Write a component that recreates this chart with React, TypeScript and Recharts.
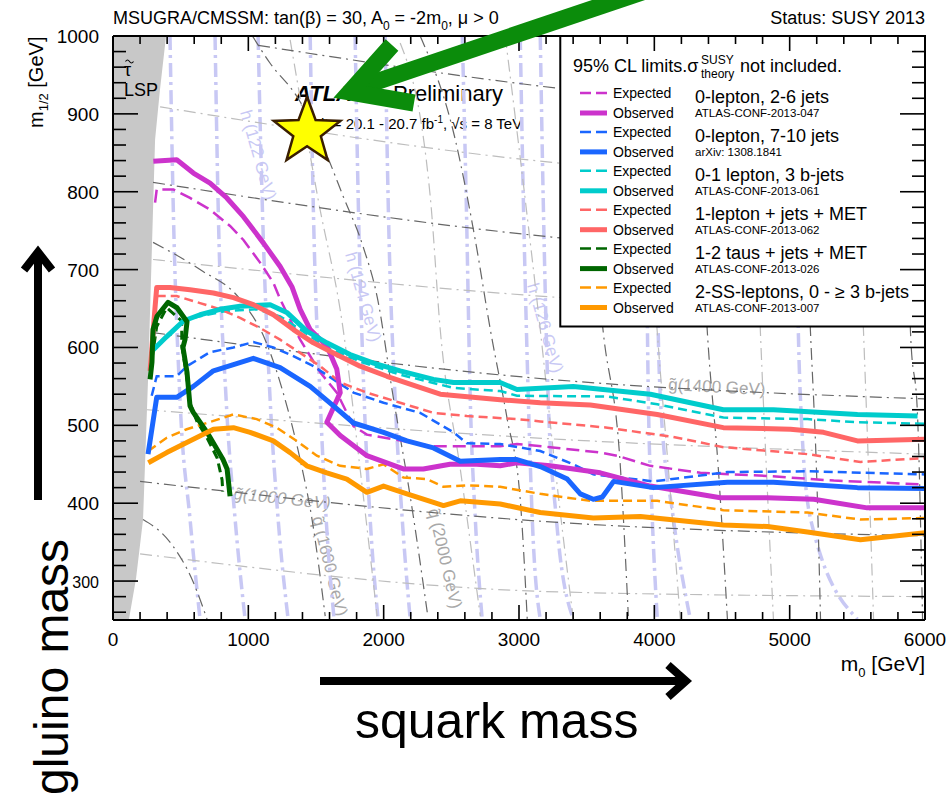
import React from 'react';
import { Area, ComposedChart, Line, ReferenceArea, Scatter, XAxis, YAxis } from 'recharts';

type P = [number, number];

const FONT = '"Liberation Sans", Arial, Helvetica, sans-serif';

const xTicks = [
  0, 200, 400, 600, 800, 1000, 1200, 1400, 1600, 1800, 2000, 2200, 2400, 2600, 2800, 3000,
  3200, 3400, 3600, 3800, 4000, 4200, 4400, 4600, 4800, 5000, 5200, 5400, 5600, 5800, 6000,
];
const yTicks = [
  260, 280, 300, 320, 340, 360, 380, 400, 420, 440, 460, 480, 500, 520, 540, 560, 580, 600,
  620, 640, 660, 680, 700, 720, 740, 760, 780, 800, 820, 840, 860, 880, 900, 920, 940, 960,
  980, 1000,
];

// --- exclusion limits (m0, m1/2) ---
const magentaObs: P[] = [
  [298, 839], [471, 841], [594, 824], [717, 811], [841, 792], [964, 768], [1112, 734], [1235, 704],
  [1322, 678], [1383, 649], [1457, 623], [1580, 602], [1654, 572], [1679, 542], [1580, 504],
  [1679, 487], [1876, 461], [2145, 444], [2293, 444], [2490, 450], [2687, 450], [2861, 448],
  [2984, 452], [3231, 448], [3601, 439], [3970, 422], [4488, 407], [4833, 407], [5178, 405],
  [5573, 394], [6000, 394],
];
const magentaExp: P[] = [
  [311, 786], [323, 803], [446, 803], [569, 792], [717, 777], [865, 756], [964, 738], [1087, 709],
  [1185, 683], [1235, 662], [1383, 610], [1531, 568], [1654, 542], [1777, 499], [1876, 488],
  [2072, 482], [2368, 473], [2689, 473], [2861, 473], [2985, 476], [3231, 472], [3601, 465],
  [3724, 461], [3970, 448], [4340, 439], [4833, 435], [5326, 429], [6000, 424],
];
const blueObs: P[] = [
  [259, 463], [323, 536], [471, 536], [594, 550], [742, 570], [890, 578], [1037, 586], [1235, 574],
  [1457, 550], [1629, 525], [1777, 503], [1999, 491], [2172, 480], [2368, 471], [2566, 454],
  [2861, 456], [2985, 456], [3157, 447], [3357, 431], [3453, 412], [3549, 405], [3616, 408],
  [3699, 428], [3993, 420], [4540, 427], [4880, 427], [5501, 420], [6000, 419],
];
const blueExp: P[] = [
  [286, 538], [323, 563], [471, 563], [547, 576], [717, 594], [890, 600], [1037, 607], [1185, 600],
  [1333, 589], [1481, 576], [1629, 559], [1777, 542], [1999, 529], [2270, 516], [2516, 491],
  [2615, 477], [2861, 476], [3157, 467], [3401, 450], [3549, 437], [3993, 428], [4540, 440],
  [5131, 441], [6000, 437],
];
const cyanObs: P[] = [
  [298, 597], [397, 614], [520, 634], [643, 642], [791, 649], [939, 653], [1161, 655], [1284, 645],
  [1432, 621], [1580, 606], [1752, 591], [1925, 580], [2122, 570], [2368, 559], [2516, 555],
  [2861, 555], [2985, 546], [3401, 550], [3971, 540], [4510, 520], [4880, 520], [5501, 514],
  [5945, 512],
];
const cyanExp: P[] = [
  [495, 634], [643, 640], [841, 647], [1062, 649], [1235, 640], [1383, 623], [1580, 600],
  [1826, 582], [2122, 565], [2516, 548], [2861, 544], [2985, 538], [3653, 537], [4022, 527],
  [4510, 510], [5131, 508], [5501, 504], [6000, 502],
];
const redObs: P[] = [
  [274, 570], [310, 650], [323, 677], [421, 677], [569, 674], [742, 670], [890, 664], [1037, 655],
  [1185, 642], [1333, 623], [1481, 606], [1629, 593], [1826, 576], [2024, 563], [2245, 550],
  [2418, 540], [2861, 533], [3157, 529], [3527, 526], [4022, 514], [4510, 497], [5006, 495],
  [5250, 491], [5501, 480], [6000, 482],
];
const redExp: P[] = [
  [323, 666], [471, 666], [643, 657], [791, 649], [939, 638], [1087, 625], [1235, 610],
  [1383, 593], [1531, 576], [1679, 555], [1876, 542], [2122, 529], [2368, 516], [2615, 512],
  [2985, 508], [3157, 505], [3653, 497], [4141, 485], [4510, 472], [5131, 463], [5523, 453],
  [6000, 458],
];
const greenObs: P[] = [
  [274, 559], [288, 581], [296, 623], [325, 640], [407, 658], [473, 651], [547, 633], [532, 610],
  [517, 600], [547, 568], [569, 525], [592, 517], [695, 491], [813, 456], [843, 444], [865, 409],
];
const greenExp: P[] = [
  [288, 585], [323, 627], [397, 651], [508, 634], [508, 602], [540, 568], [569, 529], [620, 505],
  [695, 484], [770, 458], [806, 430], [811, 415],
];
const orangeObs: P[] = [
  [261, 452], [397, 465], [545, 478], [742, 495], [890, 497], [1013, 491], [1185, 480],
  [1309, 465], [1432, 448], [1580, 439], [1728, 431], [1876, 414], [1999, 422], [2172, 412],
  [2368, 401], [2442, 397], [2566, 403], [2861, 399], [3157, 388], [3549, 381], [3897, 383],
  [4510, 372], [4836, 370], [5131, 363], [5523, 353], [6000, 362],
];
const orangeExp: P[] = [
  [261, 467], [397, 484], [545, 495], [693, 503], [890, 514], [1062, 508], [1210, 497],
  [1358, 480], [1506, 461], [1678, 448], [1876, 444], [1999, 450], [2146, 433], [2319, 431],
  [2442, 421], [2615, 423], [2861, 421], [3157, 412], [3527, 403], [4022, 403], [4510, 391],
  [5131, 388], [5523, 379], [6000, 381],
];

const analyses = [
  { title: '0-lepton, 2-6 jets', ref: 'ATLAS-CONF-2013-047', color: '#cc33cc', obs: magentaObs, exp: magentaExp, dash: '13 6' },
  { title: '0-lepton, 7-10 jets', ref: 'arXiv: 1308.1841', color: '#1a66ff', obs: blueObs, exp: blueExp, dash: '9 5' },
  { title: '0-1 lepton, 3 b-jets', ref: 'ATLAS-CONF-2013-061', color: '#00cccc', obs: cyanObs, exp: cyanExp, dash: '9 5' },
  { title: '1-lepton + jets + MET', ref: 'ATLAS-CONF-2013-062', color: '#ff6666', obs: redObs, exp: redExp, dash: '9 5' },
  { title: '1-2 taus + jets + MET', ref: 'ATLAS-CONF-2013-026', color: '#006600', obs: greenObs, exp: greenExp, dash: '9 5' },
  { title: '2-SS-leptons, 0 - \u2265 3 b-jets', ref: 'ATLAS-CONF-2013-007', color: '#ff9900', obs: orangeObs, exp: orangeExp, dash: '9 5' },
];

// --- stau LSP region: lower edge of m1/2 vs m0 ---
const lspEdge: P[] = [
  [0, 250], [118, 251], [170, 303], [222, 379], [259, 559], [311, 867], [347, 931], [392, 1000],
];

// --- mass contours in the background ---
const gluinoA: P[] = [[1072, 988], [3283, 933], [6000, 892]];
const gluinoB: P[] = [[296, 812], [3283, 741], [6000, 710]];
const gluino1400: P[] = [[296, 619], [3231, 559], [6000, 534]];
const gluino1000: P[] = [[200, 428], [3231, 376], [6000, 358]];
const lightA: P[] = [[348, 909], [3283, 837], [6000, 809]];
const lightB: P[] = [[296, 713], [3231, 665], [6000, 642]];
const lightC: P[] = [[251, 520], [3305, 482], [6000, 463]];
const lightD: P[] = [[200, 335], [3305, 286], [6000, 280]];
const squark1200: P[] = [[222, 379], [421, 350], [592, 299], [695, 251]];
const squark1600: P[] = [[296, 735], [643, 700], [939, 662], [1124, 610], [1272, 533], [1383, 456], [1471, 379], [1568, 255]];
const squark2000: P[] = [[1030, 1000], [1161, 965], [1360, 922], [1553, 858], [1701, 794], [1849, 729], [1952, 665], [2070, 537], [2196, 409], [2322, 260]];
const squark2400: P[] = [[2270, 1000], [2529, 867], [2677, 738], [2788, 623], [2913, 508], [3009, 405], [3061, 251]];
const squark2800: P[] = [[3305, 1000], [3527, 790], [3623, 619], [3749, 447], [3808, 255]];
const squark3200: P[] = [[4266, 1000], [4340, 790], [4392, 619], [4473, 444], [4540, 251]];
const squark3600: P[] = [[5080, 1000], [5110, 790], [5154, 619], [5205, 405], [5228, 251]];
const squark4000: P[] = [[5850, 1000], [5870, 790], [5893, 619], [5945, 512], [5982, 251]];
const vertA: P[] = [[1309, 995], [1516, 790], [1701, 623], [1826, 444], [1952, 255]];
const vertB: P[] = [[2122, 991], [2344, 794], [2418, 623], [2566, 444], [2714, 255]];
const vertC: P[] = [[2898, 1000], [3046, 790], [3157, 623], [3268, 444], [3401, 251]];
const vertD: P[] = [[3897, 1000], [3956, 790], [4022, 619], [4104, 444], [4192, 251]];
const vertE: P[] = [[4710, 1000], [4747, 790], [4784, 619], [4828, 444], [4880, 251]];
const vertF: P[] = [[5486, 1000], [5509, 790], [5546, 619], [5583, 444], [5620, 251]];
const higgs1: P[] = [[421, 1000], [444, 790], [495, 533], [569, 380], [643, 251]];
const higgs2: P[] = [[754, 1000], [776, 790], [836, 533], [902, 380], [976, 251]];
const higgs3: P[] = [[1072, 1000], [1102, 790], [1161, 533], [1220, 380], [1294, 251]];
const higgs4: P[] = [[1457, 1000], [1479, 790], [1531, 533], [1575, 380], [1634, 251]];
const higgs5: P[] = [[1789, 1000], [1812, 790], [1856, 533], [1900, 380], [1959, 251]];
const higgs6: P[] = [[2011, 1000], [2033, 790], [2085, 533], [2137, 380], [2196, 251]];
const higgs7: P[] = [[2581, 1000], [2610, 790], [2640, 533], [2677, 380], [2728, 251]];
const higgs8: P[] = [[3009, 1000], [3032, 790], [3069, 533], [3098, 380], [3157, 251]];
const higgs9: P[] = [[3157, 1000], [3179, 790], [3216, 533], [3276, 380], [3401, 251]];
const higgs10: P[] = [[3934, 1000], [3941, 790], [3956, 533], [3985, 380], [4022, 251]];
const higgs11: P[] = [[4008, 1000], [4015, 790], [4045, 533], [4141, 380], [4266, 251]];
const higgs12: P[] = [[5043, 1000], [5050, 790], [5080, 533], [5154, 380], [5501, 251]];

const darkContours = [gluinoA, gluinoB, gluino1400, gluino1000, squark1200, squark1600, squark2000, squark2400, squark2800, squark3200, squark3600, squark4000];
const lightContours = [lightA, lightB, lightC, lightD, vertA, vertB, vertC, vertD, vertE, vertF];
const higgsContours = [higgs1, higgs2, higgs3, higgs4, higgs5, higgs6, higgs7, higgs8, higgs9, higgs10, higgs11, higgs12];

const starPos = [{ x: 1434, y: 877 }];
const legendBox = { x1: 3305, x2: 6000, y1: 627, y2: 1000 };

const toXY = (a: P[]) => a.map(([x, y]) => ({ x, y }));
const lspData = lspEdge.map(([x, y]) => ({ x, range: [y, 1000] }));

const BottomTick = (p: any) => {
  const v = p.payload.value;
  const major = v % 1000 === 0;
  return (
    <g>
      <line x1={p.x} x2={p.x} y1={p.y} y2={p.y - (major ? 15 : 8)} stroke="#000" strokeWidth={1.6} />
      {major && (
        <text x={p.x} y={p.y + 26} textAnchor="middle" fontSize={19} fontFamily={FONT} fill="#000">
          {v}
        </text>
      )}
    </g>
  );
};
const TopTick = (p: any) => {
  const major = p.payload.value % 1000 === 0;
  return <line x1={p.x} x2={p.x} y1={p.y} y2={p.y + (major ? 15 : 8)} stroke="#000" strokeWidth={1.6} />;
};
const LeftTick = (p: any) => {
  const v = p.payload.value;
  const major = v % 100 === 0;
  return (
    <g>
      <line x1={p.x} x2={p.x + (major ? 25 : 13)} y1={p.y} y2={p.y} stroke="#000" strokeWidth={1.6} />
      {major && (
        <text x={p.x - 14} y={p.y + 7} textAnchor="end" fontSize={v === 300 ? 16 : 19} fontFamily={FONT} fill="#000">
          {v}
        </text>
      )}
    </g>
  );
};
const RightTick = (p: any) => {
  const major = p.payload.value % 100 === 0;
  return <line x1={p.x} x2={p.x - (major ? 25 : 13)} y1={p.y} y2={p.y} stroke="#000" strokeWidth={1.6} />;
};

const StarShape = (p: any) => {
  const pts: string[] = [];
  for (let i = 0; i < 10; i++) {
    const r = i % 2 === 0 ? 35 : 14.5;
    const a = -Math.PI / 2 + (i * Math.PI) / 5;
    pts.push(`${p.cx + r * Math.cos(a)},${p.cy + r * Math.sin(a)}`);
  }
  return <polygon points={pts.join(' ')} fill="#ffff00" stroke="#3a1e00" strokeWidth={2.5} />;
};

const grayLabel = { fontFamily: FONT, fontSize: 17, fill: '#a8a8a8' };
const higgsLabel = { fontFamily: FONT, fontSize: 17, fill: '#c8c8f4' };

export default function App() {
  return (
    <div style={{ position: 'absolute', left: 0, top: 0, width: 947, height: 798, overflow: 'hidden', background: '#fff' }}>
      {/* underlay: text that sits beneath the curves */}
      <svg width={947} height={798} style={{ position: 'absolute', left: 0, top: 0 }}>
        <text x={295} y={101} fontFamily={FONT} fontSize={22} fontWeight="bold" fontStyle="italic">ATLAS</text>
        <text x={393} y={101} fontFamily={FONT} fontSize={22}>Preliminary</text>
        <text x={300} y={129} fontFamily={FONT} fontSize={15}>
          {'\u222BL dt = 20.1 - 20.7 fb'}
          <tspan dy={-6} fontSize={10}>-1</tspan>
          <tspan dy={6}>{', \u221As = 8 TeV'}</tspan>
        </text>
        <text x={233} y={499} transform="rotate(6 233 499)" {...grayLabel} fontStyle="italic">{'g\u0303(1000 GeV)'}</text>
        <text x={668} y={390} transform="rotate(3 668 390)" {...grayLabel}>{'g\u0303(1400 GeV)'}</text>
        <text x={312} y={518} transform="rotate(76 312 518)" {...grayLabel}>{'q\u0303 (1600 GeV)'}</text>
        <text x={428} y={510} transform="rotate(77 428 510)" {...grayLabel}>{'q\u0303 (2000 GeV)'}</text>
        <text x={240} y={112} transform="rotate(74 240 112)" {...higgsLabel}>h (122 GeV)</text>
        <text x={345} y={254} transform="rotate(74 345 254)" {...higgsLabel}>h (124 GeV)</text>
        <text x={527} y={285} transform="rotate(74 527 285)" {...higgsLabel}>h (126 GeV)</text>
      </svg>

      <div style={{ position: 'absolute', left: 0, top: 0 }}>
        <ComposedChart width={947} height={798} margin={{ top: 35, right: 21, bottom: 177, left: 112 }}>
          {higgsContours.map((c, i) => (
            <Line key={`h${i}`} data={toXY(c)} dataKey="y" type="monotone" stroke="#c8c8f4" strokeWidth={3.5}
              strokeDasharray="14 5 3 5" dot={false} activeDot={false} isAnimationActive={false} />
          ))}
          {lightContours.map((c, i) => (
            <Line key={`l${i}`} data={toXY(c)} dataKey="y" type="monotone" stroke="#bdbdbd" strokeWidth={1.2}
              strokeDasharray="12 5 2 5" dot={false} activeDot={false} isAnimationActive={false} />
          ))}
          {darkContours.map((c, i) => (
            <Line key={`d${i}`} data={toXY(c)} dataKey="y" type="monotone" stroke="#666" strokeWidth={1.2}
              strokeDasharray="12 5 2 5" dot={false} activeDot={false} isAnimationActive={false} />
          ))}
          <Area data={lspData} dataKey="range" type="linear" stroke="none" fill="#c8c8c8" fillOpacity={1}
            isAnimationActive={false} activeDot={false} />
          {analyses.map((a) => (
            <Line key={`e${a.ref}`} data={toXY(a.exp)} dataKey="y" type="linear" stroke={a.color}
              strokeWidth={a.color === '#006600' ? 3 : 2.5} strokeDasharray={a.dash} dot={false} activeDot={false}
              isAnimationActive={false} />
          ))}
          {analyses.map((a) => (
            <Line key={`o${a.ref}`} data={toXY(a.obs)} dataKey="y" type="linear" stroke={a.color} strokeWidth={5}
              strokeLinejoin="round" dot={false} activeDot={false} isAnimationActive={false} />
          ))}
          <Scatter data={starPos} dataKey="y" shape={StarShape} isAnimationActive={false} />
          <ReferenceArea {...legendBox} fill="#fff" fillOpacity={1} stroke="#000" strokeWidth={2}
            ifOverflow="visible" zIndex={450} />
          <XAxis dataKey="x" type="number" domain={[0, 6000]} ticks={xTicks} interval={0} allowDataOverflow
            height={1} tickSize={0} tickMargin={0} tickLine={false} axisLine={{ stroke: '#000', strokeWidth: 2 }}
            tick={BottomTick} />
          <XAxis xAxisId="top" orientation="top" dataKey="x" type="number" domain={[0, 6000]} ticks={xTicks}
            interval={0} allowDataOverflow height={1} tickSize={0} tickMargin={0} tickLine={false}
            axisLine={{ stroke: '#000', strokeWidth: 2 }} tick={TopTick} />
          <YAxis type="number" domain={[250, 1000]} ticks={yTicks} interval={0} allowDataOverflow width={1}
            tickSize={0} tickMargin={0} tickLine={false} axisLine={{ stroke: '#000', strokeWidth: 2 }} tick={LeftTick} />
          <YAxis yAxisId="right" orientation="right" type="number" domain={[250, 1000]} ticks={yTicks} interval={0}
            allowDataOverflow width={1} tickSize={0} tickMargin={0} tickLine={false}
            axisLine={{ stroke: '#000', strokeWidth: 2 }} tick={RightTick} />
        </ComposedChart>
      </div>

      {/* overlay: titles, legend text and annotations */}
      <svg width={947} height={798} style={{ position: 'absolute', left: 0, top: 0, pointerEvents: 'none' }}>
        <text x={113} y={24} fontFamily={FONT} fontSize={18}>
          {'MSUGRA/CMSSM: tan(\u03B2) = 30, A'}
          <tspan dy={6} fontSize={12}>0</tspan>
          <tspan dy={-6}>{' = -2m'}</tspan>
          <tspan dy={6} fontSize={12}>0</tspan>
          <tspan dy={-6}>{', \u03BC > 0'}</tspan>
        </text>
        <text x={925} y={24} textAnchor="end" fontFamily={FONT} fontSize={18}>Status: SUSY 2013</text>
        <text x={43} y={128} transform="rotate(-90 43 128)" fontFamily={FONT} fontSize={20}>
          m<tspan dy={5} fontSize={13}>1/2</tspan>
          <tspan dy={-5}> [GeV]</tspan>
        </text>
        <text x={925} y={671} textAnchor="end" fontFamily={FONT} fontSize={21}>
          m<tspan dy={6} fontSize={13}>0</tspan>
          <tspan dy={-6}> [GeV]</tspan>
        </text>
        <path d="M125.5,61.5 q2,-3 4,0 t4,0" fill="none" stroke="#000" strokeWidth={1.1} />
        <text x={124} y={76} fontFamily={FONT} fontSize={18}>{'\u03C4'}</text>
        <text x={124} y={96} fontFamily={FONT} fontSize={18}>LSP</text>

        {/* legend */}
        <text x={573} y={72} fontFamily={FONT} fontSize={18}>{'95% CL limits.\u03C3'}</text>
        <text x={701} y={64} fontFamily={FONT} fontSize={12}>SUSY</text>
        <text x={701} y={78} fontFamily={FONT} fontSize={12}>theory</text>
        <text x={740} y={72} fontFamily={FONT} fontSize={18}>not included.</text>
        {analyses.map((a, i) => {
          const y0 = 93 + i * 38.9;
          return (
            <g key={a.ref}>
              <line x1={580} x2={607} y1={y0} y2={y0} stroke={a.color} strokeWidth={2.5} strokeDasharray="11 5" />
              <text x={613} y={y0 + 5} fontFamily={FONT} fontSize={14}>Expected</text>
              <line x1={580} x2={607} y1={y0 + 20} y2={y0 + 20} stroke={a.color} strokeWidth={5} />
              <text x={613} y={y0 + 25} fontFamily={FONT} fontSize={14}>Observed</text>
              <text x={695} y={y0 + 10} fontFamily={FONT} fontSize={18}>{a.title}</text>
              <text x={695} y={y0 + 24} fontFamily={FONT} fontSize={11.5}>{a.ref}</text>
            </g>
          );
        })}

        {/* annotations */}
        <polyline points="660,-14 352,90" fill="none" stroke="#0b8c0b" strokeWidth={17} />
        <polyline points="392,45 350,92 414,103" fill="none" stroke="#0b8c0b" strokeWidth={17} strokeLinejoin="miter" />
        <line x1={38} y1={500} x2={38} y2={254} stroke="#000" strokeWidth={8} />
        <polyline points="24,270 38,252 52,270" fill="none" stroke="#000" strokeWidth={8} strokeLinejoin="miter" />
        <line x1={320} y1={681} x2={684} y2={681} stroke="#000" strokeWidth={8} />
        <polyline points="668,665 686,681 668,697" fill="none" stroke="#000" strokeWidth={8} strokeLinejoin="miter" />
        <text x={355} y={738} fontFamily={FONT} fontSize={50}>squark mass</text>
        <text x={68} y={795} transform="rotate(-90 68 795)" fontFamily={FONT} fontSize={48}>gluino mass</text>
      </svg>
    </div>
  );
}
